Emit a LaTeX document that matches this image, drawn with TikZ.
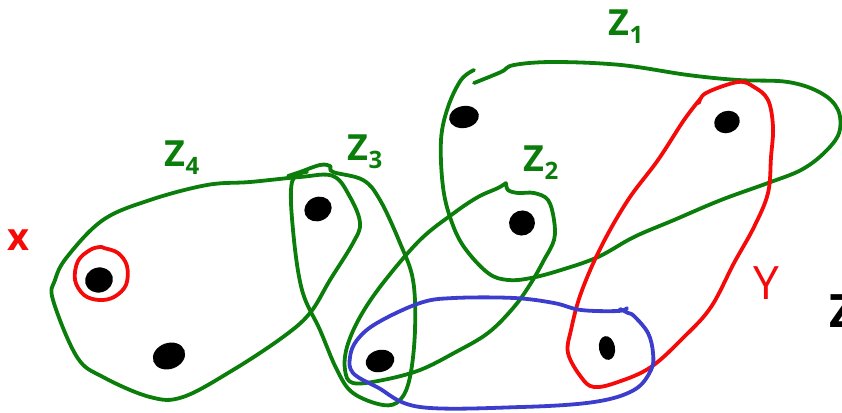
\documentclass[tikz,border=0pt]{standalone}
\usepackage{fontspec}
\setmainfont{Open Sans}
\usetikzlibrary{shapes.geometric}
\definecolor{hgreen}{RGB}{10,125,10}
\definecolor{hred}{RGB}{245,10,10}
\definecolor{hblue}{RGB}{60,60,205}
\tikzset{
  pen/.style={line width=3.8pt, line cap=round, line join=round},
  dot/.style={fill=black, ellipse, inner sep=0pt},
  lbl/.style={inner sep=0pt, font=\fontsize{36}{36}\selectfont\bfseries},
}
\newcommand{\zlab}[1]{Z\raisebox{-8pt}{\fontsize{24}{24}\selectfont\bfseries #1}}
\begin{document}
\begin{tikzpicture}[x=1pt,y=-1pt]
\useasboundingbox (0,0) rectangle (842,412);
\clip (0,0) rectangle (842,412);
% Z4
\draw[pen,hgreen] plot[smooth cycle, tension=0.6] coordinates {
 (300,177) (250,182) (207,185) (150,200) (103,220) (67,257) (55,280) (53,300)
 (77,357) (103,377) (150,397) (183,397) (233,370) (283,337) (310,313) (330,280)
 (353,243) (360,223) (350,197) (333,176)};
% Z3
\draw[pen,hgreen] plot[smooth, tension=0.6] coordinates {
 (307,172) (292,182) (293,230) (302,290) (320,330) (337,370) (353,393) (383,405)
 (400,400) (410,377) (415,330) (413,280) (400,243) (380,200) (363,180) (333,172)
 (330,166) (320,165) (300,172) (288,176)};
% Z2
\draw[pen,hgreen] plot[smooth, tension=0.6] coordinates {
 (506,183) (508,190) (518,193) (534,193) (548,200) (554,220) (554,240) (544,260)
 (531,283) (514,307) (488,333) (454,353) (420,370) (383,380) (353,383) (345,370)
 (347,347) (360,317) (383,283) (420,240) (454,213) (478,197) (498,188) (506,183)};
% Z1
\draw[pen,hgreen] plot[smooth, tension=0.6] coordinates {
 (474,70) (461,80) (448,107) (441,140) (443,187) (451,220) (464,247) (488,273)
 (508,280) (531,278) (561,270) (598,257) (634,237) (674,220) (721,200) (768,183)
 (801,170) (824,153) (839,133) (838,110) (821,93) (788,82) (738,80) (688,75)
 (621,65) (554,62) (514,65) (501,72) (474,83)};
% Y (red)
\draw[pen,hred] plot[smooth, tension=0.6] coordinates {
 (699,103) (706,93) (738,82) (754,87) (768,100) (773,127) (771,157) (768,193)
 (754,227) (734,263) (711,307) (684,337) (651,367) (618,382) (594,387) (581,377)
 (568,353) (571,330) (581,293) (601,247) (628,200) (658,160) (684,120) (701,98)};
% blue
\draw[pen,hblue] plot[smooth, tension=0.6] coordinates {
 (620,309) (628,313) (634,316) (648,333) (653,353) (651,370) (634,390) (594,402)
 (521,407) (420,407) (377,387) (353,373) (350,357) (357,340) (377,323) (420,303)
 (454,298) (514,298) (554,303) (581,310) (618,311) (627,308)};
% red circle around x
\draw[pen,hred] plot[smooth cycle, tension=0.6] coordinates {
 (104,248) (118,253) (127,266) (126,285) (114,297) (99,300) (84,295) (75,280)
 (78,261) (90,250) (100,247)};
% dots
\node[dot, minimum width=28pt, minimum height=25pt, rotate=15] (d1) at (99,280) {};
\node[dot, minimum width=33pt, minimum height=26pt, rotate=20] (d2) at (169,356) {};
\node[dot, minimum width=28pt, minimum height=24pt, rotate=25] (d3) at (318,209) {};
\node[dot, minimum width=29pt, minimum height=22pt, rotate=15] (d4) at (380,361) {};
\node[dot, minimum width=30pt, minimum height=22pt, rotate=10] (d5) at (464,117) {};
\node[dot, minimum width=26pt, minimum height=25pt, rotate=20] (d6) at (522,223) {};
\node[dot, minimum width=26pt, minimum height=22pt, rotate=20] (d7) at (727,122) {};
\node[dot, minimum width=16pt, minimum height=24pt, rotate=10] (d8) at (607,348) {};
% labels
\node[lbl, hgreen] (z1) at (626,27) {\zlab{1}};
\node[lbl, hgreen] (z2) at (541,163) {\zlab{2}};
\node[lbl, hgreen] (z3) at (365,152) {\zlab{3}};
\node[lbl, hgreen] (z4) at (182,158) {\zlab{4}};
\node[lbl, hred, font=\fontsize{38}{38}\selectfont\bfseries] (lx) at (18,240) {x};
\node[lbl, hred, font=\fontsize{46}{46}\selectfont] (ly) at (766,283) {Y};
\node[lbl, black, anchor=west, font=\fontsize{46}{46}\selectfont\bfseries] (z5) at (829,311) {Z};
\end{tikzpicture}
\end{document}
